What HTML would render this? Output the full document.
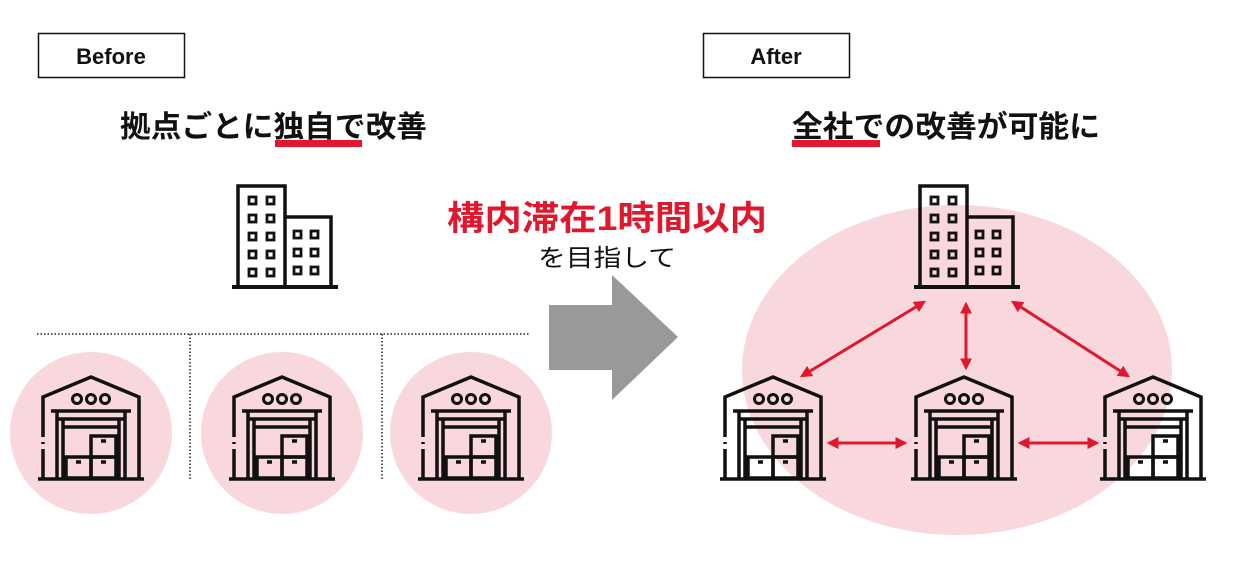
<!DOCTYPE html>
<html><head><meta charset="utf-8"><style>
html,body{margin:0;padding:0;background:#fff;}
svg{display:block;}
text{font-family:"Liberation Sans","Noto Sans CJK JP",sans-serif;}
</style></head><body>
<svg width="1240" height="561" viewBox="0 0 1240 561" xmlns="http://www.w3.org/2000/svg">
<defs>
<g id="wh" fill="none" stroke="#111" stroke-width="3.5" stroke-linejoin="miter">
  <polyline points="-48,60 -48,20 0,0 48,20 48,101"/>
  <line x1="-48" y1="72" x2="-48" y2="101"/>
  <line x1="-48" y1="65" x2="-48" y2="67"/>
  <line x1="-53" y1="102" x2="53" y2="102"/>
  <circle cx="-14" cy="22" r="4.5" stroke-width="3"/>
  <circle cx="0" cy="22" r="4.5" stroke-width="3"/>
  <circle cx="14" cy="22" r="4.5" stroke-width="3"/>
  <line x1="-40" y1="34" x2="40" y2="34"/>
  <line x1="-34" y1="34" x2="-34" y2="101"/>
  <line x1="34" y1="34" x2="34" y2="101"/>
  <line x1="-34" y1="42" x2="34" y2="42"/>
  <line x1="-28" y1="50" x2="28" y2="50"/>
  <line x1="-28" y1="42" x2="-28" y2="101"/>
  <line x1="28" y1="42" x2="28" y2="101"/>
  <rect x="-25" y="80" width="25" height="21"/>
  <rect x="0" y="80" width="25" height="21"/>
  <rect x="0" y="59" width="25" height="21"/>
  <line x1="-15" y1="85" x2="-10" y2="85"/>
  <line x1="10" y1="85" x2="15" y2="85"/>
  <line x1="10" y1="64" x2="15" y2="64"/>
</g>
<g id="bld" fill="none" stroke="#111" stroke-width="3.5">
  <rect x="0" y="0" width="47" height="101"/>
  <polyline points="47,31 93,31 93,101"/>
  <line x1="-6" y1="101" x2="100" y2="101" stroke-width="4"/>
  <g stroke-width="2.8">
   <rect x="11" y="11" width="7" height="7"/><rect x="29" y="11" width="7" height="7"/>
   <rect x="11" y="29" width="7" height="7"/><rect x="29" y="29" width="7" height="7"/>
   <rect x="11" y="47" width="7" height="7"/><rect x="29" y="47" width="7" height="7"/>
   <rect x="11" y="65" width="7" height="7"/><rect x="29" y="65" width="7" height="7"/>
   <rect x="11" y="83" width="7" height="7"/><rect x="29" y="83" width="7" height="7"/>
   <rect x="56" y="45" width="7" height="7"/><rect x="73" y="45" width="7" height="7"/>
   <rect x="56" y="63" width="7" height="7"/><rect x="73" y="63" width="7" height="7"/>
   <rect x="56" y="81" width="7" height="7"/><rect x="73" y="81" width="7" height="7"/>
  </g>
</g>
<marker id="ah" viewBox="0 0 10 10" refX="8" refY="5" markerWidth="4" markerHeight="4" orient="auto-start-reverse">
  <path d="M0,0 L10,5 L0,10 Z" fill="#e0182d"/>
</marker>
</defs>

<!-- Before -->
<rect x="38.5" y="33.5" width="146" height="44" fill="#fff" stroke="#111" stroke-width="1.5"/>
<text x="111" y="64" font-size="22" font-weight="bold" text-anchor="middle" fill="#111">Before</text>
<text x="120" y="137" font-size="30" font-weight="bold" textLength="307" lengthAdjust="spacingAndGlyphs" fill="#111">拠点ごとに独自で改善</text>
<rect x="275" y="140" width="87" height="7" fill="#e0182d"/>

<use href="#bld" x="238" y="186"/>

<g stroke="#222" stroke-width="1.5" stroke-dasharray="1.5,2" fill="none">
<line x1="37" y1="334" x2="530" y2="334"/>
<line x1="190" y1="334" x2="190" y2="480"/>
<line x1="382" y1="334" x2="382" y2="480"/>
</g>
<circle cx="91" cy="433" r="81" fill="#f8d8dc"/>
<circle cx="282" cy="433" r="81" fill="#f8d8dc"/>
<circle cx="471" cy="433" r="81" fill="#f8d8dc"/>
<use href="#wh" x="91" y="377"/>
<use href="#wh" x="282" y="377"/>
<use href="#wh" x="471" y="377"/>

<!-- middle -->
<text x="447" y="230" font-size="34" font-weight="bold" textLength="320" lengthAdjust="spacingAndGlyphs" fill="#e0182d">構内滞在1時間以内</text>
<text x="538" y="266" font-size="24" textLength="138" lengthAdjust="spacingAndGlyphs" fill="#111">を目指して</text>
<polygon points="549,305 612,305 612,275 678,337 612,400 612,370 549,370" fill="#999"/>

<!-- After -->
<rect x="703.5" y="33.5" width="146" height="44" fill="#fff" stroke="#111" stroke-width="1.5"/>
<text x="776" y="64" font-size="22" font-weight="bold" text-anchor="middle" fill="#111">After</text>
<ellipse cx="957" cy="370" rx="215" ry="165" fill="#f8d8dc"/>
<text x="792" y="137" font-size="30" font-weight="bold" textLength="308" lengthAdjust="spacingAndGlyphs" fill="#111">全社での改善が可能に</text>
<rect x="792" y="140" width="88" height="7" fill="#e0182d"/>

<use href="#bld" x="920" y="186"/>
<use href="#wh" x="773" y="377"/>
<use href="#wh" x="964" y="377"/>
<use href="#wh" x="1153" y="377"/>

<g stroke="#e0182d" stroke-width="3" marker-start="url(#ah)" marker-end="url(#ah)">
<line x1="924" y1="302" x2="802" y2="376"/>
<line x1="966" y1="304" x2="966" y2="368"/>
<line x1="1013" y1="302" x2="1128" y2="376"/>
<line x1="829" y1="443" x2="905" y2="443"/>
<line x1="1020" y1="443" x2="1097" y2="443"/>
</g>
</svg>
</body></html>
